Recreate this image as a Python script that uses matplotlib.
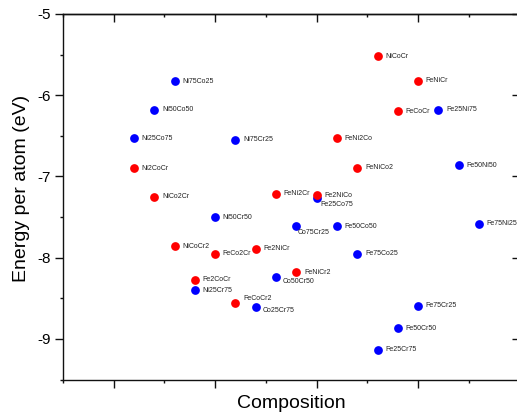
import matplotlib
matplotlib.use("Agg")
import matplotlib.pyplot as plt
from matplotlib.ticker import MultipleLocator, NullFormatter

plt.rcParams['font.family'] = ['Liberation Sans', 'DejaVu Sans']
plt.rcParams['axes.unicode_minus'] = False

# Red series (ternary-type compositions)
red_names = ["NiCoCr", "FeNiCr", "FeCoCr", "FeNi2Co", "FeNiCo2", "FeNi2Cr", "Fe2NiCo",
             "Ni2CoCr", "NiCo2Cr", "NiCoCr2", "FeCo2Cr", "Fe2NiCr", "Fe2CoCr", "FeCoCr2",
             "FeNiCr2"]
red_x = [5.2, 6.0, 5.6, 4.4, 4.8, 3.2, 4.0, 0.4, 0.8, 1.2, 2.0, 2.8, 1.6, 2.4, 3.6]
red_y = [-5.52, -5.82, -6.20, -6.53, -6.89, -7.21, -7.23, -6.90, -7.25, -7.86, -7.95,
         -7.89, -8.27, -8.56, -8.18]

# Blue series (binary compositions)
blue_names = ["Ni75Co25", "Ni50Co50", "Ni25Co75", "Ni75Cr25", "Fe25Ni75", "Fe50Ni50",
              "Fe25Co75", "Co75Cr25", "Fe50Co50", "Fe75Ni25", "Fe75Co25", "Co50Cr50",
              "Ni50Cr50", "Ni25Cr75", "Co25Cr75", "Fe75Cr25", "Fe50Cr50", "Fe25Cr75"]
blue_x = [1.2, 0.8, 0.4, 2.4, 6.4, 6.8, 4.0, 3.6, 4.4, 7.2, 4.8, 3.2, 2.0, 1.6, 2.8,
          6.0, 5.6, 5.2]
blue_y = [-5.83, -6.18, -6.53, -6.55, -6.18, -6.86, -7.27, -7.61, -7.61, -7.58, -7.95,
          -8.24, -7.50, -8.40, -8.61, -8.59, -8.87, -9.13]

# label offsets (points) for labels not placed directly to the right
label_offsets = {
    "Fe25Co75": (3.0, -4.5),
    "Co75Cr25": (1.0, -4.7),
    "Co50Cr50": (5.0, -3.0),
    "FeCoCr2": (5.5, 3.2),
    "Co25Cr75": (5.0, -2.4),
}
default_offset = (5.5, 0.0)

W, H = 517, 417
fig = plt.figure(figsize=(W / 100, H / 100), dpi=100)
left_px, right_px, top_px, bot_px = 63, 519.6, 14, 379.6
ax = fig.add_axes([left_px / W, 1 - bot_px / H, (right_px - left_px) / W, (bot_px - top_px) / H])

ax.plot(blue_x, blue_y, 'o', color='#0000FF', markersize=6.3, markeredgewidth=0, zorder=3)
ax.plot(red_x, red_y, 'o', color='#FF0000', markersize=6.3, markeredgewidth=0, zorder=4)

for names, xs, ys in ((blue_names, blue_x, blue_y), (red_names, red_x, red_y)):
    for n, x, y in zip(names, xs, ys):
        off = label_offsets.get(n, default_offset)
        ax.annotate(n, (x, y), xytext=off, textcoords='offset points',
                    ha='left', va='center', fontsize=5, color='#222222',
                    annotation_clip=False, zorder=5)

ax.set_xlim(-1, 8)
ax.set_ylim(-9.5, -5)

ax.xaxis.set_major_locator(MultipleLocator(2))
ax.xaxis.set_minor_locator(MultipleLocator(1))
ax.xaxis.set_major_formatter(NullFormatter())
ax.yaxis.set_major_locator(MultipleLocator(1))
ax.yaxis.set_minor_locator(MultipleLocator(0.5))

for s in ax.spines.values():
    s.set_linewidth(1.0)
    s.set_color('#111111')

ax.tick_params(axis='both', which='major', direction='out', length=5.5, width=1.0,
               color='#111111', labelsize=11, pad=3)
ax.tick_params(axis='both', which='minor', direction='out', length=2.5, width=1.0,
               color='#111111')
ax.tick_params(top=False, right=False, which='both')

# mirrored inward ticks on top and right
topax = ax.secondary_xaxis('top')
topax.xaxis.set_major_locator(MultipleLocator(2))
topax.xaxis.set_minor_locator(MultipleLocator(1))
topax.tick_params(which='major', direction='in', length=5.5, width=1.0, color='#111111', labeltop=False)
topax.tick_params(which='minor', direction='in', length=2.5, width=1.0, color='#111111')
topax.spines['top'].set_linewidth(1.0)

rightax = ax.secondary_yaxis('right')
rightax.yaxis.set_major_locator(MultipleLocator(1))
rightax.yaxis.set_minor_locator(MultipleLocator(0.5))
rightax.tick_params(which='major', direction='in', length=5.5, width=1.0, color='#111111', labelright=False)
rightax.tick_params(which='minor', direction='in', length=2.5, width=1.0, color='#111111')
rightax.spines['right'].set_linewidth(1.0)

ax.set_xlabel("Composition", fontsize=14)
ax.set_ylabel("Energy per atom (eV)", fontsize=14)
ax.xaxis.set_label_coords(0.5, -0.042)
ax.yaxis.set_label_coords(-0.072, 0.524)

fig.savefig("out.png", dpi=100)
